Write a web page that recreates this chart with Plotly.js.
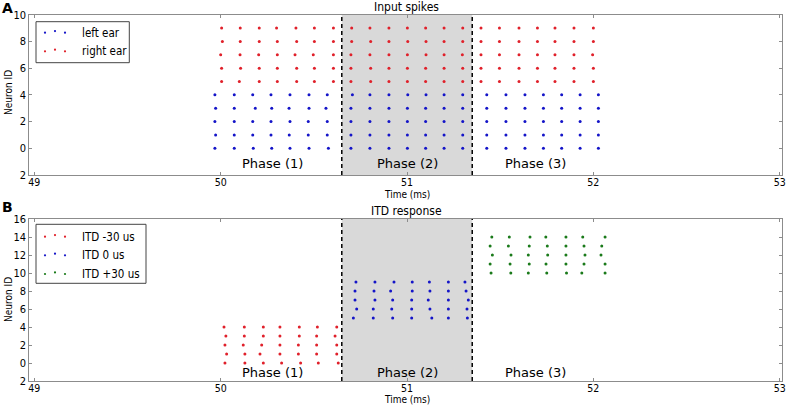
<!DOCTYPE html>
<html>
<head>
<meta charset="utf-8">
<script src="https://cdn.plot.ly/plotly-3.0.1.min.js"></script>
<style>
  html, body { margin: 0; padding: 0; background: #fff; }
  #chart { width: 787px; height: 405px; }
</style>
</head>
<body>
<div id="chart"></div>
<script>
// ------------------------------------------------------------------------------
// DATA (spike times in ms, one row per neuron)

// Panel A: input spikes
const left_ids  = [0, 1, 2, 3, 4];
const left_ear  = [
    [49.969, 50.073, 50.175, 50.274, 50.372, 50.474, 50.578, 50.699, 50.801, 50.903, 51.002, 51.100, 51.199, 51.299, 51.428, 51.531, 51.633, 51.732, 51.830, 51.929, 52.027],
    [49.973, 50.073, 50.172, 50.270, 50.368, 50.470, 50.572, 50.699, 50.801, 50.903, 51.002, 51.100, 51.199, 51.299, 51.428, 51.531, 51.633, 51.732, 51.830, 51.929, 52.027],
    [49.969, 50.073, 50.172, 50.270, 50.372, 50.470, 50.572, 50.699, 50.801, 50.903, 51.002, 51.100, 51.199, 51.299, 51.428, 51.531, 51.633, 51.732, 51.830, 51.929, 52.027],
    [49.973, 50.073, 50.186, 50.274, 50.367, 50.474, 50.565, 50.699, 50.801, 50.903, 51.002, 51.100, 51.199, 51.299, 51.428, 51.531, 51.633, 51.732, 51.830, 51.929, 52.027],
    [49.969, 50.073, 50.172, 50.270, 50.372, 50.474, 50.572, 50.707, 50.801, 50.903, 51.004, 51.102, 51.199, 51.299, 51.428, 51.531, 51.633, 51.732, 51.830, 51.929, 52.027]
];
const right_ids = [5, 6, 7, 8, 9];
const right_ear = [
    [50.005, 50.100, 50.207, 50.304, 50.408, 50.503, 50.605, 50.699, 50.805, 50.903, 51.002, 51.100, 51.199, 51.299, 51.397, 51.496, 51.601, 51.700, 51.794, 51.896, 52.000],
    [50.005, 50.107, 50.207, 50.304, 50.408, 50.503, 50.605, 50.699, 50.805, 50.903, 51.002, 51.100, 51.199, 51.299, 51.397, 51.496, 51.601, 51.700, 51.794, 51.896, 52.000],
    [50.000, 50.104, 50.204, 50.304, 50.399, 50.497, 50.605, 50.699, 50.801, 50.903, 51.002, 51.102, 51.199, 51.297, 51.397, 51.496, 51.601, 51.700, 51.794, 51.896, 51.996],
    [50.009, 50.105, 50.207, 50.304, 50.408, 50.503, 50.605, 50.703, 50.805, 50.903, 51.004, 51.102, 51.199, 51.299, 51.397, 51.496, 51.601, 51.700, 51.794, 51.896, 52.000],
    [50.005, 50.105, 50.207, 50.300, 50.404, 50.503, 50.605, 50.703, 50.801, 50.903, 51.002, 51.100, 51.199, 51.299, 51.397, 51.496, 51.601, 51.700, 51.794, 51.896, 52.000]
];

// Panel B: ITD response
const itd_neg_ids = [0, 1, 2, 3, 4];
const itd_neg = [
    [50.023, 50.130, 50.229, 50.327, 50.429, 50.524, 50.631],
    [50.032, 50.130, 50.211, 50.318, 50.417, 50.515, 50.623],
    [50.023, 50.121, 50.220, 50.318, 50.417, 50.515, 50.623],
    [50.028, 50.127, 50.229, 50.318, 50.422, 50.515, 50.614],
    [50.018, 50.127, 50.229, 50.318, 50.422, 50.519, 50.623]
];
const itd_zero_ids = [5, 6, 7, 8, 9];
const itd_zero = [
    [50.712, 50.819, 50.923, 51.025, 51.133, 51.222, 51.324],
    [50.730, 50.819, 50.918, 51.025, 51.123, 51.222, 51.322],
    [50.721, 50.828, 50.923, 51.025, 51.114, 51.222, 51.329],
    [50.721, 50.823, 50.912, 51.028, 51.123, 51.222, 51.317],
    [50.726, 50.828, 50.930, 51.028, 51.120, 51.222, 51.311]
];
const itd_pos_ids = [10, 11, 12, 13, 14];
const itd_pos = [
    [51.451, 51.557, 51.651, 51.750, 51.856, 51.938, 52.063],
    [51.446, 51.553, 51.656, 51.746, 51.853, 51.950, 52.063],
    [51.458, 51.558, 51.651, 51.755, 51.853, 51.955, 52.041],
    [51.446, 51.544, 51.656, 51.753, 51.853, 51.950, 52.045],
    [51.455, 51.549, 51.660, 51.745, 51.853, 51.943, 52.063]
];

// phase boundaries and labels
const phase_edges  = [50.65, 51.35];
const phase_labels = ['Phase (1)', 'Phase (2)', 'Phase (3)'];
const phase_x      = [50.28, 51.0, 51.69];

const x_ticks      = [49, 50, 51, 52, 53];
const y_ticks_a    = [-2, 0, 2, 4, 6, 8, 10];
const y_labels_a   = ['2', '0', '2', '4', '6', '8', '10'];
const y_ticks_b    = [-2, 0, 2, 4, 6, 8, 10, 12, 14, 16];
const y_labels_b   = ['2', '0', '2', '4', '6', '8', '10', '12', '14', '16'];

// ------------------------------------------------------------------------------
// PARAMETERS

const W = 787, H = 405;
const font_family = '"DejaVu Sans Condensed", "DejaVu Sans", sans-serif';
const axis_gray   = '#8c8c8c';
const red   = '#e0202a';
const blue  = '#1414c8';
const green = '#1a7a1a';

function px(x) { return x / W; }
function py(y) { return 1 - y / H; }

// ------------------------------------------------------------------------------
// TRACES

function rasterTrace(rows, ids, color, xa, ya) {
    const xs = [], ys = [];
    rows.forEach((row, i) => {
        row.forEach(t => { xs.push(t); ys.push(ids[i]); });
    });
    return {
        x: xs, y: ys,
        type: 'scatter', mode: 'markers',
        marker: { color: color, size: 3, line: { width: 0 } },
        xaxis: xa, yaxis: ya,
        showlegend: false, hoverinfo: 'none'
    };
}

const traces = [
    rasterTrace(left_ear,  left_ids,  blue, 'x', 'y'),
    rasterTrace(right_ear, right_ids, red,  'x', 'y'),
    rasterTrace(itd_neg,  itd_neg_ids,  red,   'x2', 'y2'),
    rasterTrace(itd_zero, itd_zero_ids, blue,  'x2', 'y2'),
    rasterTrace(itd_pos,  itd_pos_ids,  green, 'x2', 'y2')
];

// ------------------------------------------------------------------------------
// LAYOUT

function xAxis(anchor) {
    return {
        domain: [px(29.3), px(782.3)],
        range: [48.973, 53.014],
        anchor: anchor,
        tickvals: x_ticks,
        ticktext: x_ticks.map(String),
        ticks: 'inside', ticklen: 3, tickcolor: axis_gray,
        ticklabelstandoff: -3,
        showline: true, mirror: 'ticks', linecolor: axis_gray, linewidth: 1,
        showgrid: false, zeroline: false,
        tickfont: { family: font_family, size: 10.5, color: '#000' }
    };
}

function yAxis(anchor, dom, rng, vals, labels) {
    return {
        domain: dom,
        range: rng,
        anchor: anchor,
        tickvals: vals,
        ticktext: labels,
        ticks: 'inside', ticklen: 3, tickcolor: axis_gray,
        showline: true, mirror: 'ticks', linecolor: axis_gray, linewidth: 1,
        showgrid: false, zeroline: false,
        tickfont: { family: font_family, size: 11, color: '#000' }
    };
}

const shapes = [];
const annotations = [];

[['x', 'y'], ['x2', 'y2']].forEach(([xa, ya]) => {
    shapes.push({
        type: 'rect', xref: xa, yref: ya + ' domain',
        x0: phase_edges[0], x1: phase_edges[1], y0: 0, y1: 1,
        fillcolor: '#d9d9d9', line: { width: 0 }, layer: 'below'
    });
    phase_edges.forEach(e => {
        shapes.push({
            type: 'line', xref: xa, yref: ya + ' domain',
            x0: e, x1: e, y0: 0, y1: 1,
            line: { color: '#000', width: 1.5, dash: '4px,3px' }
        });
    });
});

phase_labels.forEach((lbl, i) => {
    annotations.push({ text: lbl, x: phase_x[i], y: -1.15, xref: 'x', yref: 'y',
        showarrow: false, font: { family: 'DejaVu Sans', size: 13, color: '#000' } });
    annotations.push({ text: lbl, x: phase_x[i], y: -1.1, xref: 'x2', yref: 'y2',
        showarrow: false, font: { family: 'DejaVu Sans', size: 13, color: '#000' } });
});

function label(text, x, y, size, extra) {
    annotations.push(Object.assign({
        text: text, x: px(x), y: py(y), xref: 'paper', yref: 'paper',
        showarrow: false, xanchor: 'center', yanchor: 'middle',
        font: { family: font_family, size: size, color: '#000' }
    }, extra || {}));
}

// panel titles, letters, axis titles
label('Input spikes', 406.7, 7, 12);
label('ITD response', 406.7, 211, 12);
label('<b>A</b>', 7, 8.3, 14, { font: { family: 'DejaVu Sans', size: 14, color: '#000' } });
label('<b>B</b>', 7.5, 207, 14, { font: { family: 'DejaVu Sans', size: 14, color: '#000' } });
label('Time (ms)', 406.7, 195, 10);
label('Time (ms)', 406.7, 399.5, 10);
label('Neuron ID', 8, 93, 10, { textangle: -90 });
label('Neuron ID', 8, 300, 10, { textangle: -90 });

// hand-drawn legends (three scatter dots per entry, like matplotlib)
function legendBox(x0, y0, x1, y1, entries) {
    shapes.push({
        type: 'rect', xref: 'paper', yref: 'paper',
        x0: px(x0), x1: px(x1), y0: py(y1), y1: py(y0),
        fillcolor: '#fff', line: { color: '#444', width: 1 }
    });
    entries.forEach(([text, color, yy]) => {
        [[45, 0], [55, -1.6], [65, 0]].forEach(([dx, dy]) => {
            shapes.push({
                type: 'circle', xref: 'paper', yref: 'paper',
                x0: px(dx - 1.1), x1: px(dx + 1.1),
                y0: py(yy + dy + 1.1), y1: py(yy + dy - 1.1),
                fillcolor: color, line: { width: 0 }
            });
        });
        label(text, 80, yy, 11.5, { xanchor: 'left' });
    });
}

legendBox(36, 21.7, 129.3, 62.7, [
    ['left ear', blue, 32.7],
    ['right ear', red, 51.3]
]);
legendBox(36, 224.3, 146, 283.3, [
    ['ITD -30 us', red, 236.7],
    ['ITD 0 us', blue, 255.3],
    ['ITD +30 us', green, 274]
]);

const layout = {
    width: W, height: H,
    margin: { l: 0, r: 0, t: 0, b: 0 },
    paper_bgcolor: '#fff', plot_bgcolor: 'rgba(0,0,0,0)',
    showlegend: false,
    font: { family: font_family, color: '#000' },
    xaxis:  xAxis('y'),
    yaxis:  yAxis('x', [py(175), py(14.7)], [-2, 10], y_ticks_a, y_labels_a),
    xaxis2: xAxis('y2'),
    yaxis2: yAxis('x2', [py(381), py(219)], [-2, 16], y_ticks_b, y_labels_b),
    shapes: shapes,
    annotations: annotations
};

Plotly.newPlot('chart', traces, layout, { displayModeBar: false, staticPlot: true });
</script>
</body>
</html>
